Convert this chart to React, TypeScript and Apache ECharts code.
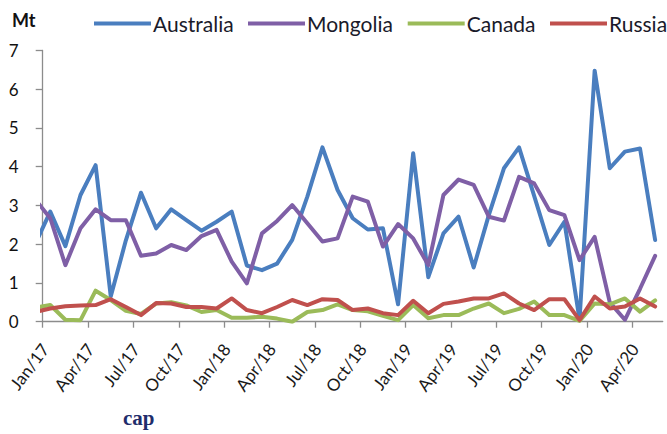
import React, { useEffect, useRef } from "react";
import * as echarts from "echarts";

// Months: a lead-in Dec/16 value (clipped at the axis edge) then Jan/17 .. May/20
const months = [
  "Dec/16",
  "Jan/17", "Feb/17", "Mar/17", "Apr/17", "May/17", "Jun/17", "Jul/17", "Aug/17", "Sep/17", "Oct/17", "Nov/17", "Dec/17",
  "Jan/18", "Feb/18", "Mar/18", "Apr/18", "May/18", "Jun/18", "Jul/18", "Aug/18", "Sep/18", "Oct/18", "Nov/18", "Dec/18",
  "Jan/19", "Feb/19", "Mar/19", "Apr/19", "May/19", "Jun/19", "Jul/19", "Aug/19", "Sep/19", "Oct/19", "Nov/19", "Dec/19",
  "Jan/20", "Feb/20", "Mar/20", "Apr/20", "May/20",
];

const australia = [2.0, 2.84, 1.95, 3.27, 4.04, 0.65, 2.1, 3.33, 2.41, 2.9, 2.62, 2.35, 2.58, 2.84, 1.45, 1.33, 1.5, 2.11, 3.23, 4.5, 3.4, 2.67, 2.38, 2.41, 0.45, 4.35, 1.15, 2.28, 2.71, 1.4, 2.75, 3.96, 4.5, 3.25, 1.98, 2.58, 0.05, 6.48, 3.96, 4.39, 4.47, 2.11];
const mongolia = [3.16, 2.67, 1.46, 2.41, 2.9, 2.62, 2.62, 1.7, 1.76, 1.98, 1.85, 2.21, 2.37, 1.55, 0.99, 2.28, 2.6, 3.01, 2.54, 2.07, 2.15, 3.23, 3.1, 1.94, 2.52, 2.15, 1.46, 3.27, 3.67, 3.53, 2.71, 2.61, 3.74, 3.57, 2.88, 2.75, 1.59, 2.19, 0.5, 0.05, 0.85, 1.7];
const canada = [0.36, 0.43, 0.05, 0.04, 0.8, 0.56, 0.28, 0.2, 0.47, 0.5, 0.42, 0.25, 0.3, 0.1, 0.1, 0.13, 0.08, 0.0, 0.25, 0.3, 0.45, 0.3, 0.27, 0.15, 0.04, 0.43, 0.09, 0.17, 0.17, 0.34, 0.47, 0.22, 0.33, 0.52, 0.17, 0.17, 0.02, 0.47, 0.45, 0.6, 0.26, 0.55];
const russia = [0.25, 0.34, 0.4, 0.42, 0.43, 0.58, 0.38, 0.17, 0.48, 0.47, 0.38, 0.38, 0.34, 0.6, 0.3, 0.22, 0.38, 0.56, 0.43, 0.58, 0.56, 0.3, 0.34, 0.22, 0.17, 0.54, 0.22, 0.46, 0.52, 0.6, 0.6, 0.73, 0.47, 0.3, 0.58, 0.58, 0.04, 0.65, 0.34, 0.39, 0.6, 0.39];

const seriesNames = ["Australia", "Mongolia", "Canada", "Russia"];
const seriesColors = ["#4a7ebf", "#7f5fa6", "#9bbb59", "#c0504d"];
const yTicks = [0, 1, 2, 3, 4, 5, 6, 7];

const FONT = "Lato, 'Open Sans', sans-serif";
const LEGEND_LEFT = [89, 243, 402.7, 545];
const LABEL_SHIFT = 0.15;

export default function App() {
  const ref = useRef<HTMLDivElement>(null);
  useEffect(() => {
    if (!ref.current) return;
    const chart = echarts.init(ref.current, undefined, { renderer: "svg" });
    const nMonths = months.length - 1; // 41 plotted months
    const tickValues: number[] = [];
    for (let v = 0; v < nMonths; v += 3) tickValues.push(v);
    const labelValues = tickValues.map((v) => v + LABEL_SHIFT);
    const allSeries = [australia, mongolia, canada, russia];
    chart.setOption({
      animation: false,
      backgroundColor: "#ffffff",
      grid: { left: 42.7, right: 4.3, top: 50.5, bottom: 112.3 },
      legend: seriesNames.map((name, k) => ({
        left: LEGEND_LEFT[k],
        top: 8,
        icon: "rect",
        itemWidth: 57,
        itemHeight: 4,
        textStyle: { fontFamily: FONT, fontSize: 21, color: "#1a1a2a", padding: [0, 0, 0, -3] },
        data: [name],
      })),
      xAxis: {
        type: "value",
        min: 0,
        max: nMonths,
        interval: 3,
        splitLine: { show: false },
        axisLine: { show: true, lineStyle: { color: "#8c8c8c", width: 1.3 } },
        axisTick: { show: true, length: 6, lineStyle: { color: "#8c8c8c", width: 1.3 }, customValues: tickValues },
        axisLabel: {
          customValues: labelValues,
          formatter: (v: number) => months[Math.floor(v) + 1] || "",
          rotate: 53,
          margin: 24,
          fontFamily: FONT,
          fontSize: 17,
          color: "#1a1a1a",
        },
      },
      yAxis: {
        type: "value",
        min: 0,
        max: 7,
        interval: 1,
        splitLine: { show: false },
        axisLine: { show: true, lineStyle: { color: "#8c8c8c", width: 1.3 } },
        axisTick: { show: true, length: 7, lineStyle: { color: "#8c8c8c", width: 1.3 } },
        axisLabel: {
          customValues: yTicks,
          margin: 24,
          fontFamily: FONT,
          fontSize: 17,
          color: "#111111",
        },
      },
      graphic: [
        {
          type: "text",
          left: 12,
          top: 11,
          style: { text: "Mt", font: `bold 18px ${FONT}`, fill: "#111111" },
        },
        {
          type: "text",
          left: 123,
          top: 407,
          style: { text: "cap", font: "bold 21px 'Liberation Serif', 'DejaVu Serif', serif", fill: "#1f2d6b" },
        },
      ],
      series: allSeries.map((vals, k) => ({
        name: seriesNames[k],
        type: "line",
        clip: true,
        showSymbol: false,
        symbol: "none",
        color: seriesColors[k],
        lineStyle: { width: 4, color: seriesColors[k], join: "round", cap: "round" },
        data: vals.map((v, i) => [i - 0.5, v]),
        z: 2 + k,
      })),
    });
    return () => chart.dispose();
  }, []);
  return (
    <div
      ref={ref}
      style={{ position: "absolute", left: 0, top: 0, width: 667, height: 434 }}
    />
  );
}
